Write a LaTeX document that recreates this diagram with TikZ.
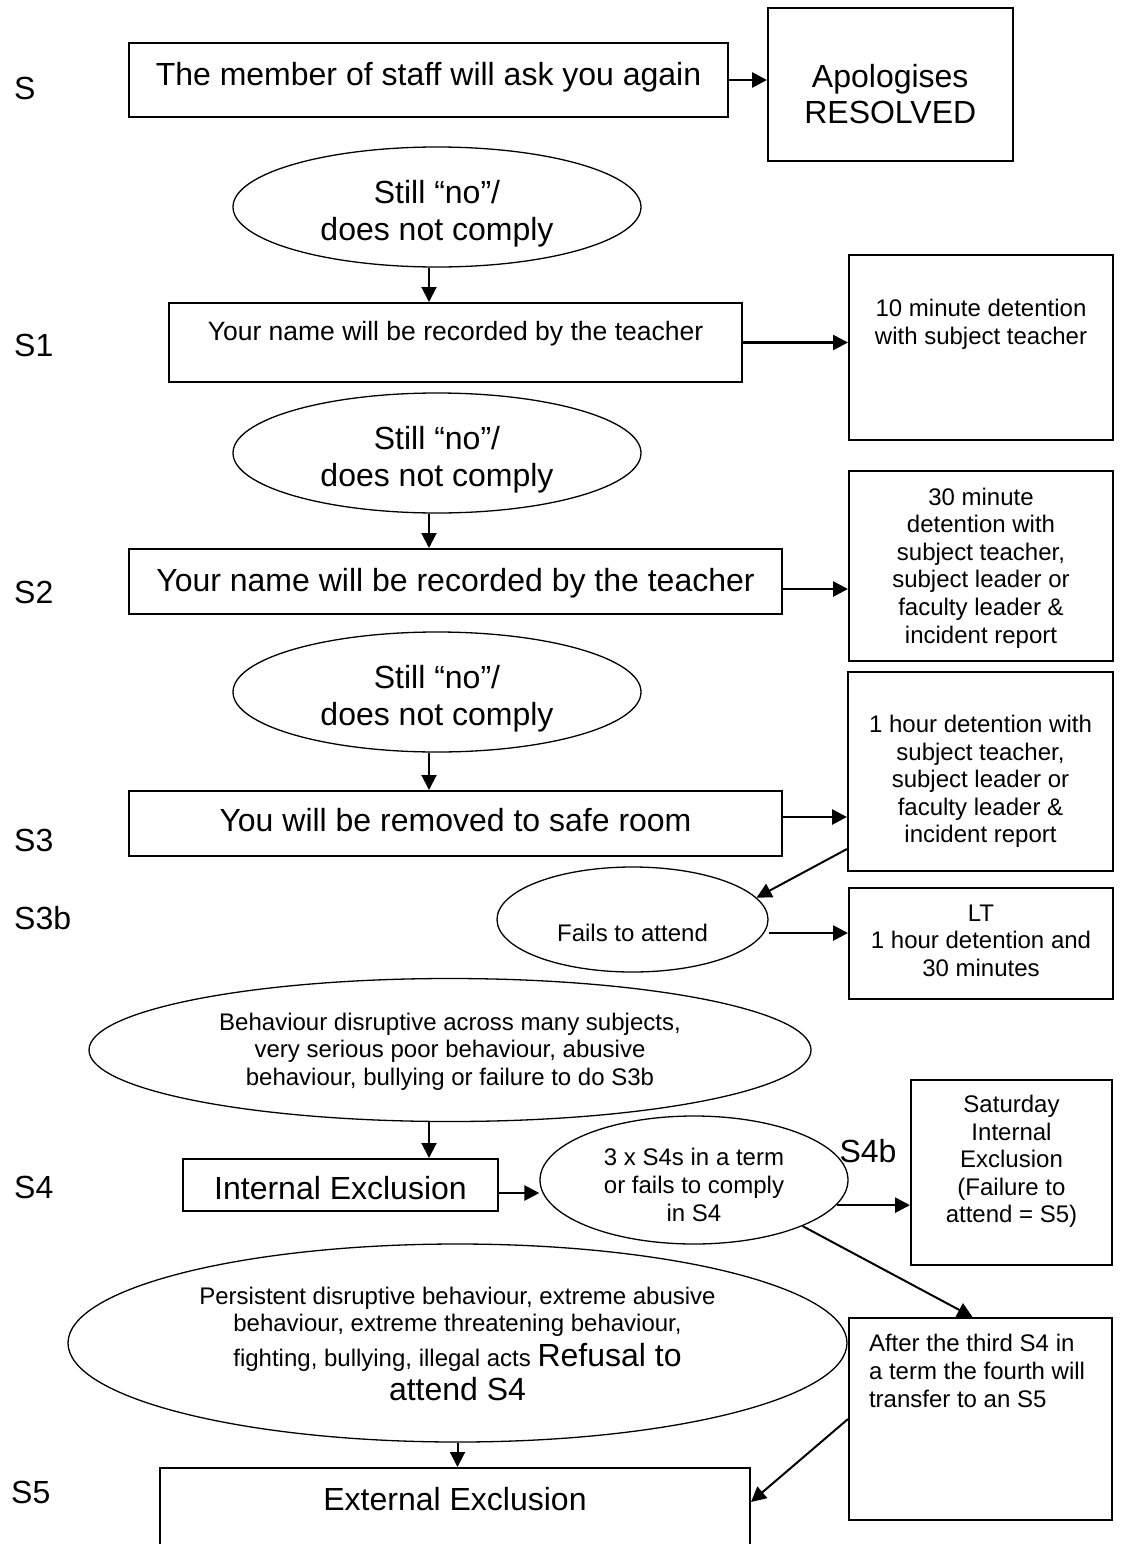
\documentclass[tikz,border=0pt]{standalone}
\usepackage{fontspec}
\setmainfont{Liberation Sans}
\usetikzlibrary{arrows.meta, shapes.geometric, positioning, calc}

% text at the top of a box: width, height, gap above, text
\newcommand{\toptext}[4]{\parbox[c][#2pt][t]{#1pt}{\centering\vspace*{#3pt}#4}}

\begin{document}
\begin{tikzpicture}[
  x=1pt, y=-1pt,
  >={Triangle[length=15pt,width=15pt]},
  big/.style={font=\fontsize{32}{36.8}\selectfont},
  mid/.style={font=\fontsize{26.5}{30.5}\selectfont},
  small/.style={font=\fontsize{24}{27.6}\selectfont},
  box/.style={draw, line width=2pt, inner sep=0pt},
  oval/.style={draw, ellipse, line width=1.3pt, inner sep=0pt},
  lbl/.style={big, anchor=west, inner sep=0pt},
  arrow/.style={->, line width=2pt},
  thickarrow/.style={->, line width=2.7pt}
]

\path[fill=white, use as bounding box] (0,0) rectangle (1122,1544);

% Stage labels
\node[lbl] (labS) at (14,88) {S};
\node[lbl] (labS1) at (14,345) {S1};
\node[lbl] (labS2) at (14,592) {S2};
\node[lbl] (labS3) at (14,840) {S3};
\node[lbl] (labS3b) at (14,918) {S3b};
\node[lbl] (labS4) at (14,1187) {S4};
\node[lbl] (labS5) at (11,1492) {S5};
\node[big, inner sep=0pt] (labS4b) at (868,1151) {S4b};

% Main column
\node[box, big] (ask) at (428.5,80) {\toptext{599}{74}{19}{The member of staff will ask you again}};
\node[oval, big, minimum width=408pt, minimum height=120pt] (no1) at (437,207) {\toptext{280}{80}{13.3}{Still “no”/\\does not comply}};
\node[box, mid] (rec1) at (455.5,342.5) {\toptext{573}{79}{18}{Your name will be recorded by the teacher}};
\node[oval, big, minimum width=408pt, minimum height=120pt] (no2) at (437,453) {\toptext{280}{80}{13.3}{Still “no”/\\does not comply}};
\node[box, big] (rec2) at (455.5,581.5) {\toptext{653}{65}{19.7}{Your name will be recorded by the teacher}};
\node[oval, big, minimum width=408pt, minimum height=120pt] (no3) at (437,692) {\toptext{280}{80}{13.3}{Still “no”/\\does not comply}};
\node[box, big] (safe) at (455.5,823.5) {\toptext{653}{65}{17.7}{You will be removed to safe room}};
\node[oval, small, minimum width=271pt, minimum height=105pt] (fails) at (632.5,919.5) {\toptext{180}{70}{39.3}{Fails to attend}};
\node[oval, small, minimum width=722pt, minimum height=143pt] (serious) at (450,1050) {\toptext{500}{100}{12.8}{Behaviour disruptive across many subjects,\\very serious poor behaviour, abusive\\behaviour, bullying or failure to do S3b}};
\node[box, big] (internal) at (340.5,1185) {\toptext{315}{52}{17.7}{Internal Exclusion}};
\node[oval, small, minimum width=308pt, minimum height=128pt] (three) at (694,1180) {\toptext{210}{88}{12.5}{3 x S4s in a term\\or fails to comply\\in S4}};
\node[oval, small, minimum width=779pt, minimum height=198pt] (extreme) at (457.5,1343) {\toptext{540}{136}{11.8}{Persistent disruptive behaviour, extreme abusive\\behaviour, extreme threatening behaviour,\\[6pt]fighting, bullying, illegal acts {\fontsize{32}{36.8}\selectfont Refusal to}\\[4pt]{\fontsize{32}{36.8}\selectfont attend S4}}};
\node[box, big] (external) at (455,1508) {\toptext{590}{80}{19}{External Exclusion}};

% Right column
\node[box, big] (apol) at (890.25,84.5) {\toptext{244.5}{153}{56}{Apologises\\RESOLVED}};
\node[box, small] (ten) at (981,347.5) {\toptext{264}{185}{44.5}{10 minute detention\\with subject teacher}};
\node[box, small] (thirty) at (981,566) {\toptext{264}{190}{16.8}{30 minute\\detention with\\subject teacher,\\subject leader or\\faculty leader \&\\incident report}};
\node[box, small] (hour) at (980.5,771.5) {\toptext{265}{199}{43.1}{1 hour detention with\\subject teacher,\\subject leader or\\faculty leader \&\\incident report}};
\node[box, small] (lt) at (981,943.5) {\toptext{264}{111}{16.5}{LT\\1 hour detention and\\30 minutes}};
\node[box, small] (saturday) at (1011.5,1172.5) {\toptext{201}{185}{15.1}{Saturday\\Internal\\Exclusion\\(Failure to\\attend = S5)}};
\node[box, small] (after) at (980.5,1419) {\parbox[c][202pt][t]{263pt}{\raggedright\leftskip=20pt\relax\vspace*{16.5pt}After the third S4 in\\a term the fourth will\\transfer to an S5}};

% Arrows down the main column
\coordinate (d1) at ([xshift=-8pt]no1.south);
\coordinate (d2) at ([xshift=-8pt]no2.south);
\coordinate (d3) at ([xshift=-8pt]no3.south);
\coordinate (d4) at ([xshift=-21pt]serious.south);
\draw[arrow] (d1) -- (d1 |- rec1.north);
\draw[arrow] (d2) -- (d2 |- rec2.north);
\draw[arrow] (d3) -- (d3 |- safe.north);
\draw[arrow] (d4) -- (d4 |- internal.north);
\draw[arrow] (extreme.south) -- (extreme.south |- external.north);

% Arrows to the right
\coordinate (r2) at ([yshift=-7.5pt]rec2.east);
\coordinate (r3) at ([yshift=6.5pt]safe.east);
\coordinate (r4) at ([yshift=-13.5pt]fails.east);
\coordinate (r5) at ([yshift=-8pt]internal.east);
\coordinate (r6) at (three.-10.5);
\draw[thickarrow] (ask.east) -- (ask.east -| apol.west);
\draw[thickarrow] (rec1.east) -- (rec1.east -| ten.west);
\draw[thickarrow] (r2) -- (r2 -| thirty.west);
\draw[thickarrow] (r3) -- (r3 -| hour.west);
\draw[thickarrow] (r4) -- (r4 -| lt.west);
\draw[thickarrow] (r5) -- (r5 -| three.west);
\draw[thickarrow] (r6) -- (r6 -| saturday.west);

% Diagonal arrows
\draw[arrow] ([yshift=-77.5pt]hour.west) -- (fails.10);
\draw[arrow] (three.-23) -- ([xshift=-8pt]after.north);
\draw[arrow] (after.west) -- ([yshift=6pt]external.east);

\end{tikzpicture}
\end{document}
